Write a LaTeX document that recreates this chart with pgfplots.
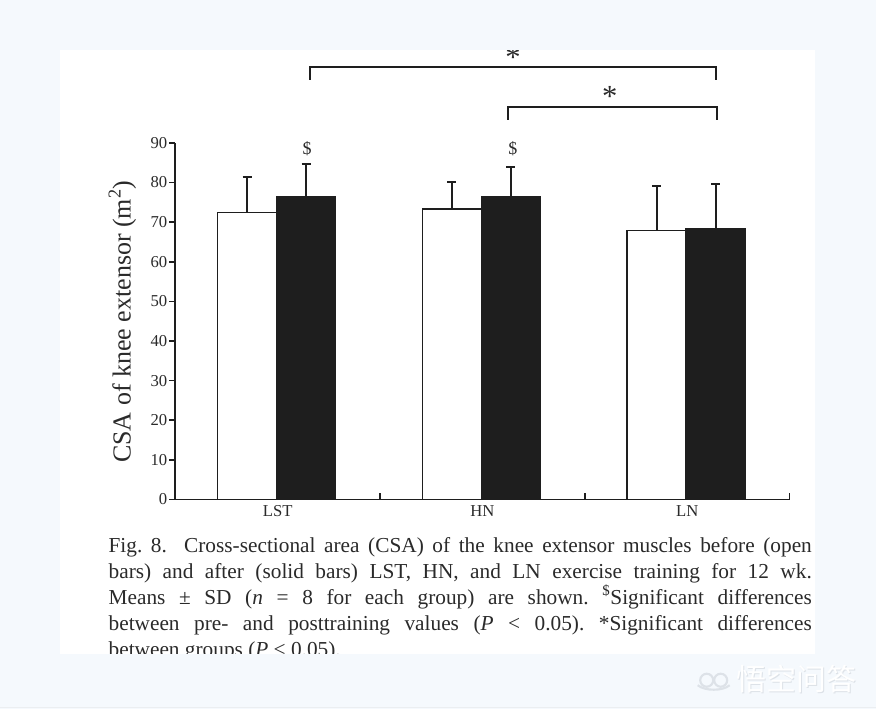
\documentclass[border=0pt]{standalone}
\usepackage{pgfplots}
\pgfplotsset{compat=1.18}
\usepackage{fontspec}
\setmainfont{Liberation Serif}
\newfontfamily\cjk{Noto Sans CJK SC}
\definecolor{bg}{HTML}{F5F9FD}
\definecolor{ink}{HTML}{1E1E1E}
\definecolor{txt}{HTML}{2A2A2A}
\definecolor{wm}{HTML}{DDE2E8}
\begin{document}
\begin{tikzpicture}
\begin{scope}[x=0.75pt,y=-0.75pt]
\useasboundingbox (0,0) rectangle (876,710);
\fill[bg] (0,0) rectangle (876,710);
\fill[white] (60,50) rectangle (815,655);
\end{scope}
\begin{axis}[
  at={(131.25pt,-375pt)}, anchor=south west,
  width=461.25pt, height=267.75pt, scale only axis,
  xmin=-0.5, xmax=2.5, ymin=0, ymax=90,
  axis x line*=bottom, axis y line*=left,
  axis line style={ink, line width=1.4pt},
  clip=false,
  ytick={0,10,...,90},
  xtick={0.5,1.5,2.5}, xticklabels={},
  extra x ticks={0,1,2}, extra x tick labels={LST,HN,LN},
  extra x tick style={major tick length=0pt},
  tick align=inside,
  major tick length=4.5pt,
  tick style={ink, line width=1.2pt},
  ytick style={xshift=-4.5pt},
  yticklabel style={xshift=-2.5pt},
  xticklabel style={yshift=-1pt},
  tick label style={font=\fontsize{12.5}{14}\selectfont, text=txt},
  /pgf/number format/assume math mode=true,
]
% before training (open bars), plotted at group position - 0.149
\addplot[ybar, bar width=0.288, bar shift=0pt, fill=white, draw=ink, line width=1.1pt,
  error bars/.cd, y dir=plus, y explicit,
  error bar style={line width=1.5pt, ink},
  error mark=|, error mark options={ink, line width=1.5pt, mark size=3.4pt}]
  coordinates {(-0.149,72.4) +- (0,8.9) (0.851,73.3) +- (0,6.7) (1.851,67.9) +- (0,11.3)};
% after training (solid bars), plotted at group position + 0.139
\addplot[ybar, bar width=0.288, bar shift=0pt, fill=ink, draw=ink, line width=1.1pt,
  error bars/.cd, y dir=plus, y explicit,
  error bar style={line width=1.5pt, ink},
  error mark=|, error mark options={ink, line width=1.5pt, mark size=3.4pt}]
  coordinates {(0.139,76.5) +- (0,8.1) (1.139,76.3) +- (0,7.6) (2.139,68.2) +- (0,11.5)};
% significance brackets
\draw[ink, line width=1.4pt] (axis cs:0.159,105.9) -- (axis cs:0.159,109.1) -- (axis cs:2.139,109.1) -- (axis cs:2.139,105.9);
\draw[ink, line width=1.4pt] (axis cs:1.126,95.8) -- (axis cs:1.126,99.1) -- (axis cs:2.145,99.1) -- (axis cs:2.145,95.8);
\node[anchor=base, inner sep=0, text=txt, font=\fontsize{23}{26}\selectfont] at (axis cs:1.149,109.1) {*};
\node[anchor=base, inner sep=0, text=txt, font=\fontsize{23}{26}\selectfont] at (axis cs:1.622,99.1) {*};
\node[anchor=base, inner sep=0, text=txt, font=\fontsize{13.5}{16}\selectfont] at (axis cs:0.144,87.0) {\$};
\node[anchor=base, inner sep=0, text=txt, font=\fontsize{13.5}{16}\selectfont] at (axis cs:1.149,87.0) {\$};
% y label
\node[rotate=90, anchor=center, inner sep=0, text=txt, font=\fontsize{19.5}{22}\selectfont] at (axis description cs:-0.0862,0.4986) {CSA of knee extensor (m\textsuperscript{2})};
\end{axis}
\begin{scope}[x=0.75pt,y=-0.75pt]
\node[anchor=base west, inner sep=0, text width=528pt, align=justify, text=txt,
  font=\fontsize{16}{19.5}\selectfont\frenchspacing] at (108,553) {Fig.~8.\ \ Cross-sectional area (CSA) of the knee extensor muscles before (open\linebreak
bars) and after (solid bars) LST, HN, and LN exercise training for 12 wk.\linebreak
Means ± SD (\textit{n} = 8 for each group) are shown. \textsuperscript{\$}Significant differences\linebreak
between pre- and posttraining values (\textit{P} < 0.05). *Significant differences\linebreak
between groups (\textit{P} < 0.05).};
% clip strips
\fill[bg] (0,0) rectangle (876,50);
\fill[bg] (0,655) rectangle (876,710);
\draw[color=wm!60, line width=0.75pt] (0,708.5) -- (876,708.5);
% watermark
\node[anchor=west, inner sep=0, text=wm, font=\cjk\fontsize{22.5}{24}\selectfont] at (737.8,680.8) {悟空问答};
\node[anchor=west, inner sep=0, text=white, font=\cjk\fontsize{22.5}{24}\selectfont] at (737,680) {悟空问答};
\draw[wm, line width=1.6pt] (707,681) circle[radius=6.5];
\draw[wm, line width=1.6pt] (721,681) circle[radius=6.5];
\draw[wm, line width=1.6pt] (698,686) .. controls (705,692) and (723,692) .. (730,686);
\end{scope}
\end{tikzpicture}
\end{document}
